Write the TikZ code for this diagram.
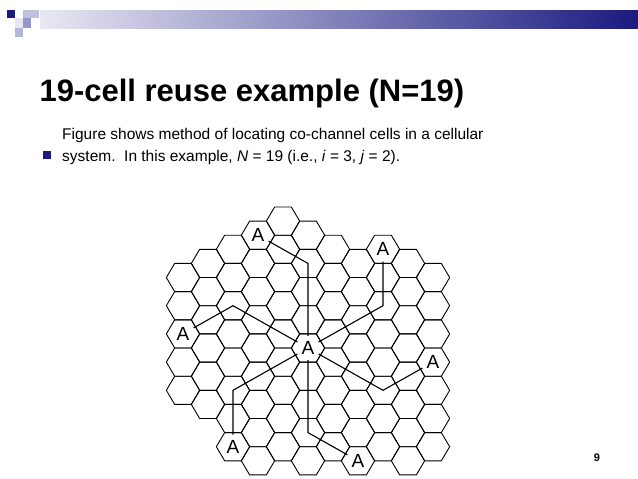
\documentclass[tikz,border=0pt]{standalone}
\usepackage{fontspec}
\setmainfont{Liberation Sans}
\definecolor{navy}{RGB}{26,26,128}
\definecolor{lav}{RGB}{232,232,244}
\definecolor{midlav}{RGB}{150,150,200}
\newcommand{\hexat}[2]{({308+25*(#1)},{348+28.2*(#2)+14.1*(#1)})}
\begin{document}
\begin{tikzpicture}[x=1pt,y=-1pt]
		\tikzstyle{hexline}=[black, line width=0.9pt, line join=round]
		\tikzstyle{reuse}=[black, line width=1.1pt]
		\tikzstyle{cellA}=[circle, minimum size=24pt, inner sep=0pt, font=\fontsize{19}{19}\selectfont]
		\useasboundingbox (0,0) rectangle (638,479);
		% header bar
		\shade [left color=lav, right color=navy] (40,10) rectangle (638,28);
		\fill [navy] (7,10) rectangle (15,18);
		\fill [midlav!60] (23,10) rectangle (39,18);
		\fill [midlav] (23,18) rectangle (31,28);
		\fill [midlav!70] (15,28) rectangle (23,37);
		\fill [lav] (15,18) rectangle (23,28);
		% title and text
		\node [anchor=base west, font=\bfseries\fontsize{31}{31}\selectfont] (title) at (36,101) {19-cell reuse example (N=19)};
		\node [fill=navy, minimum size=8pt, inner sep=0pt] (bullet) at (46.5,155) {};
		\node [anchor=base west, inner sep=0pt, font=\fontsize{15.5}{22}\selectfont, align=left] (body) at (62,161)
			{Figure shows method of locating co-channel cells in a cellular\\system.\ \ In this example, \textit{N} = 19 (i.e., \textit{i} = 3, \textit{j} = 2).};
		\node [anchor=base, font=\bfseries\fontsize{11}{11}\selectfont] (page) at (597,461) {9};
		% hexagon grid
		\foreach \q/\rtop/\rbot in {-5/0/4,-4/-1/4,-3/-2/5,-2/-3/5,-1/-4/4,0/-4/4,1/-4/3,2/-4/3,3/-5/2,4/-5/2,5/-5/1}
		{
			\foreach \r in {\rtop,...,\rbot}
			{
				\draw [hexline] \hexat{\q}{\r} +(-16.67,0) -- +(-8.33,14.1) -- +(8.33,14.1) -- +(16.67,0) -- +(8.33,-14.1) -- +(-8.33,-14.1) -- cycle;
			}
		}
		% co-channel cells
		\path \hexat{0}{0} node [cellA] (A0) {A};
		\path \hexat{-2}{-3} node [cellA] (A1) {A};
		\path \hexat{3}{-5} node [cellA] (A2) {A};
		\path \hexat{-5}{2} node [cellA] (A3) {A};
		\path \hexat{5}{-2} node [cellA] (A4) {A};
		\path \hexat{-3}{5} node [cellA] (A5) {A};
		\path \hexat{2}{3} node [cellA] (A6) {A};
		\path \hexat{0}{-3} coordinate (b1);
		\path \hexat{3}{-3} coordinate (b2);
		\path \hexat{-3}{0} coordinate (b3);
		\path \hexat{3}{0} coordinate (b4);
		\path \hexat{-3}{3} coordinate (b5);
		\path \hexat{0}{3} coordinate (b6);
		\draw [reuse] (A0) -- (b1) -- (A1);
		\draw [reuse] (A0) -- (b2) -- (A2);
		\draw [reuse] (A0) -- (b3) -- (A3);
		\draw [reuse] (A0) -- (b4) -- (A4);
		\draw [reuse] (A0) -- (b5) -- (A5);
		\draw [reuse] (A0) -- (b6) -- (A6);
\end{tikzpicture}
\end{document}
